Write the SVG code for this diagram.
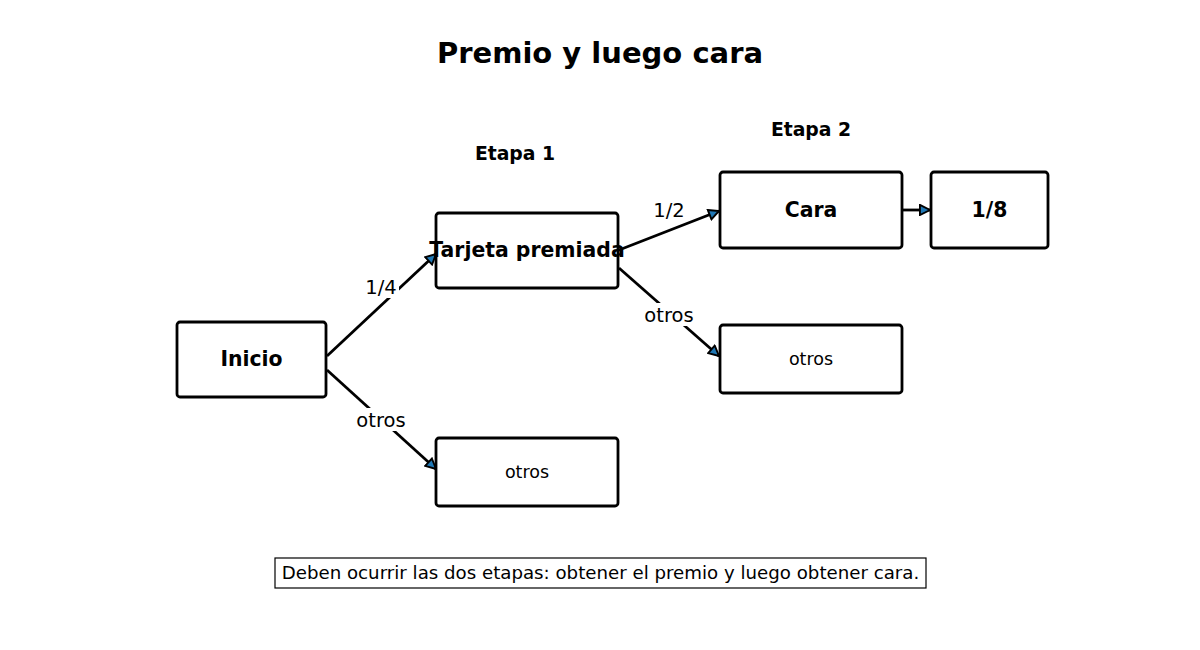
<svg xmlns="http://www.w3.org/2000/svg" width="1200" height="650" viewBox="0 0 1200 650">
<style>
text{font-family:"DejaVu Sans",sans-serif;fill:#000}
.box{fill:#fff;stroke:#000;stroke-width:2.8}
.b{font-weight:bold;font-size:20.4px}
.n{font-size:17.5px}
.e{stroke:#000;stroke-width:2.8;fill:none;marker-end:url(#ah)}
.lbl{font-size:19.5px}
.lb{fill:#fff}
</style>
<defs><marker id="ah" viewBox="0 0 10 10" refX="9" refY="5" markerWidth="4.5" markerHeight="4.5" orient="auto" markerUnits="strokeWidth"><path d="M1,1 L9,5 L1,9 Z" fill="#1f77b4" stroke="#000" stroke-width="1.5"/></marker></defs>
<rect width="1200" height="650" fill="#fff"/>
<text x="600" y="63" text-anchor="middle" font-size="29" font-weight="bold">Premio y luego cara</text>
<text x="515" y="160" text-anchor="middle" font-size="18.8" font-weight="bold">Etapa 1</text>
<text x="811" y="136" text-anchor="middle" font-size="18.8" font-weight="bold">Etapa 2</text>
<g id="connectors">
<path class="e" d="M327,356 L436,254"/>
<path class="e" d="M327,370 L436,469"/>
<path class="e" d="M619,250 L719,211"/>
<path class="e" d="M619,268 L719,356"/>
<path class="e" d="M903,210 L930,210"/>
<rect class="lb" x="363" y="275" width="36" height="23"/>
<text class="lbl" x="381" y="294" text-anchor="middle">1/4</text>
<rect class="lb" x="354" y="408" width="54" height="23"/>
<text class="lbl" x="381" y="427" text-anchor="middle">otros</text>
<rect class="lb" x="651" y="198" width="36" height="23"/>
<text class="lbl" x="669" y="217" text-anchor="middle">1/2</text>
<rect class="lb" x="642" y="303" width="54" height="23"/>
<text class="lbl" x="669" y="322" text-anchor="middle">otros</text>
</g>
<g id="inicio"><rect class="box" x="177" y="322" width="149" height="75" rx="3"/><text class="b" x="251.5" y="366" text-anchor="middle">Inicio</text></g>
<g id="tarjeta"><rect class="box" x="436" y="213" width="182" height="75" rx="3"/><text class="b" x="527" y="257" text-anchor="middle">Tarjeta premiada</text></g>
<g id="otros1"><rect class="box" x="436" y="438" width="182" height="68" rx="3"/><text class="n" x="527" y="478" text-anchor="middle">otros</text></g>
<g id="cara"><rect class="box" x="720" y="172" width="182" height="76" rx="3"/><text class="b" x="811" y="217" text-anchor="middle">Cara</text></g>
<g id="otros2"><rect class="box" x="720" y="325" width="182" height="68" rx="3"/><text class="n" x="811" y="365" text-anchor="middle">otros</text></g>
<g id="res"><rect class="box" x="931" y="172" width="117" height="76" rx="3"/><text class="b" x="989.5" y="217" text-anchor="middle">1/8</text></g>
<g id="note"><rect x="275" y="558" width="651" height="30" fill="#fff" stroke="#000" stroke-width="1.2"/><text x="600.5" y="579" text-anchor="middle" font-size="18.2">Deben ocurrir las dos etapas: obtener el premio y luego obtener cara.</text></g>
</svg>
